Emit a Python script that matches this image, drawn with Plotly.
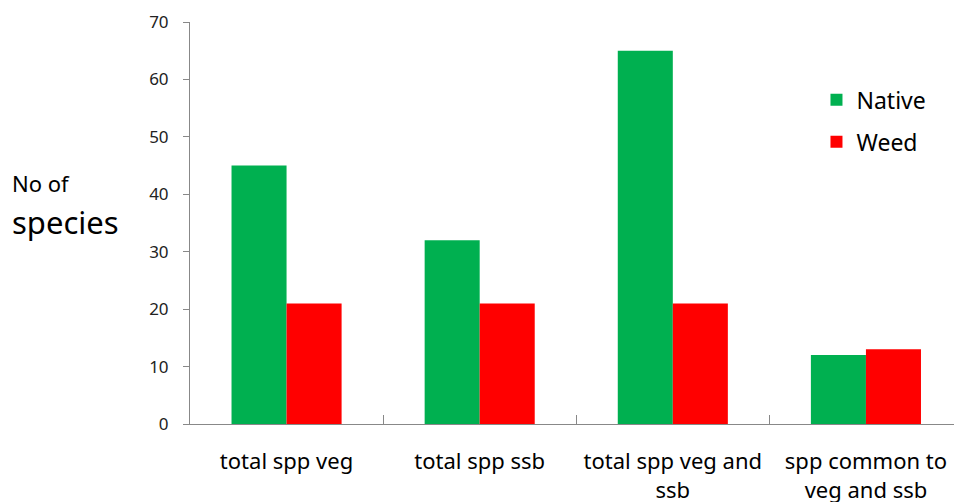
import plotly.graph_objects as go

categories = ["total spp veg", "total spp ssb", "total spp veg and<br>ssb", "spp common to<br>veg and ssb"]
native = [45, 32, 65, 12]
weed = [21, 21, 21, 13]
y_ticks = [0, 10, 20, 30, 40, 50, 60, 70]

FONT = "Noto Sans"

fig = go.Figure()
fig.add_trace(go.Bar(x=categories, y=native, name="Native", marker=dict(color="#00B050", line=dict(width=0)), legendgroup="a"))
fig.add_trace(go.Bar(x=categories, y=weed, name="Weed", marker=dict(color="#FF0000", line=dict(width=0)), legendgroup="b"))

fig.update_layout(
    width=954, height=502,
    margin=dict(l=190, r=0, t=22, b=78, autoexpand=False),
    plot_bgcolor="white", paper_bgcolor="white",
    barmode="group", bargap=0.43, bargroupgap=0,
    font=dict(family=FONT, color="#000000"),
    legend=dict(x=0.82, y=0.86, xanchor="left", yanchor="top", font=dict(size=23, family=FONT),
                tracegroupgap=9, bgcolor="rgba(0,0,0,0)"),
    showlegend=True,
)
fig.update_xaxes(
    range=[-0.5, 3.456], showline=True, linecolor="#888888", linewidth=1, automargin=False,
    ticks="inside", tickson="boundaries", ticklen=9, tickcolor="#888888",
    tickfont=dict(size=22, family=FONT), showgrid=False, tickangle=0, ticklabelstandoff=18,
)
fig.update_yaxes(
    range=[0, 70], tickvals=y_ticks, showline=True, linecolor="#888888", linewidth=1, automargin=False,
    ticks="outside", ticklen=6, tickcolor="#888888", showgrid=False, zeroline=False,
    tickfont=dict(size=17, family=FONT, color="#222222"), ticklabelstandoff=11,
)
fig.add_annotation(text="No of", xref="paper", yref="paper", x=-0.236, y=0.6, xanchor="left", yanchor="middle",
                   showarrow=False, font=dict(size=22, family=FONT))
fig.add_annotation(text="species", xref="paper", yref="paper", x=-0.236, y=0.502, xanchor="left", yanchor="middle",
                   showarrow=False, font=dict(size=31, family=FONT))

fig.write_html("out.html", config={"displayModeBar": False}, post_script="document.body.style.margin='0';")
